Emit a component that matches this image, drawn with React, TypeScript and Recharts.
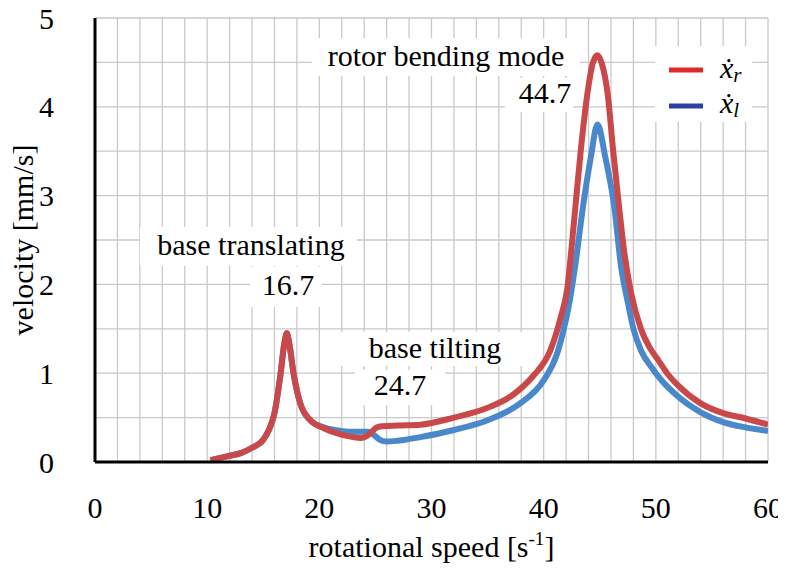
import { CartesianGrid, Label, Line, LineChart, XAxis, YAxis } from "recharts";

const FONT = "Liberation Serif";

// tick positions (grid every 2 s^-1 and 0.5 mm/s, labels on the round ones)
const xTicks = [0, 2, 4, 6, 8, 10, 12, 14, 16, 18, 20, 22, 24, 26, 28, 30, 32, 34, 36, 38, 40, 42, 44, 46, 48, 50, 52, 54, 56, 58, 60];
const xTickLabels = [0, 10, 20, 30, 40, 50, 60];
const yTicks = [0, 0.5, 1, 1.5, 2, 2.5, 3, 3.5, 4, 4.5, 5];
const yTickLabels = [0, 1, 2, 3, 4, 5];

// rotational speed [1/s] vs velocity [mm/s]
const xrSpeed = [10.3, 11, 12, 13, 14, 15, 15.5, 16, 16.5, 16.9, 17.1, 17.3, 17.7, 18.3, 19.2, 20.4, 21.9, 23, 23.7, 24.2, 24.6, 25, 25.4, 27, 29, 32, 35, 37.3, 39, 40.6, 41.5, 42.1, 42.7, 43.3, 43.9, 44.4, 44.8, 45.2, 45.7, 46.2, 46.7, 47.2, 47.8, 48.7, 49.4, 50.2, 51, 52, 54, 56, 58, 60];
const xrVelocity = [0.02, 0.04, 0.07, 0.1, 0.16, 0.25, 0.36, 0.55, 0.95, 1.35, 1.45, 1.35, 1.0, 0.66, 0.47, 0.38, 0.31, 0.28, 0.27, 0.29, 0.33, 0.38, 0.4, 0.41, 0.42, 0.5, 0.61, 0.76, 0.96, 1.26, 1.62, 1.95, 2.7, 3.5, 4.15, 4.5, 4.58, 4.48, 4.15, 3.5, 2.9, 2.35, 1.9, 1.49, 1.3, 1.15, 1.0, 0.86, 0.66, 0.55, 0.49, 0.42];

const xlSpeed = [10.3, 11, 12, 13, 14, 15, 15.5, 16, 16.5, 16.9, 17.1, 17.3, 17.7, 18.3, 19.2, 20.4, 21.9, 23, 24.3, 24.8, 25.4, 26, 27, 29, 32, 35, 37.9, 40, 41.2, 41.8, 42.3, 42.8, 43.5, 44.2, 44.8, 45.5, 46.3, 46.9, 47.5, 48, 48.7, 49.6, 50.5, 51.6, 54, 56, 58, 60];
const xlVelocity = [0.02, 0.04, 0.07, 0.1, 0.16, 0.25, 0.36, 0.55, 0.95, 1.35, 1.45, 1.35, 1.0, 0.66, 0.47, 0.39, 0.35, 0.34, 0.34, 0.31, 0.25, 0.23, 0.24, 0.28, 0.36, 0.47, 0.66, 0.92, 1.22, 1.5, 1.8, 2.2, 2.87, 3.43, 3.8, 3.43, 2.87, 2.2, 1.8, 1.5, 1.25, 1.07, 0.92, 0.78, 0.56, 0.45, 0.39, 0.35];

const xrData = xrSpeed.map((x, i) => ({ x, v: xrVelocity[i] }));
const xlData = xlSpeed.map((x, i) => ({ x, v: xlVelocity[i] }));

const tickStyle = { fontSize: 30, fill: "#000", fontFamily: FONT };
const showX = (v: number) => (xTickLabels.includes(v) ? String(v) : "");
const showY = (v: number) => (yTickLabels.includes(v) ? String(v) : "");

function XTitle({ viewBox }: any) {
  const { x, y, width } = viewBox;
  return (
    <text x={x + width / 2} y={y + 95} textAnchor="middle" fontSize={30} fill="#000" fontFamily={FONT}>
      rotational speed [s
      <tspan fontSize={19} dy={-12}>-1</tspan>
      <tspan dy={12}>]</tspan>
    </text>
  );
}

function YTitle({ viewBox }: any) {
  const { y, height } = viewBox;
  const cy = y + height / 2;
  return (
    <text x={33} y={cy} transform={`rotate(-90 33 ${cy})`} textAnchor="middle" fontSize={30} fill="#000" fontFamily={FONT}>
      velocity [mm/s]
    </text>
  );
}

// text boxes: centre x and baseline of the text, white box behind it
const notes = [
  { label: "rotor bending mode", cx: 446, base: 66, x0: 312, x1: 580, y0: 38, y1: 76 },
  { label: "44.7", cx: 545, base: 103, x0: 505, x1: 573, y0: 78, y1: 112 },
  { label: "base translating", cx: 251, base: 255, x0: 140, x1: 357, y0: 227, y1: 266 },
  { label: "16.7", cx: 288, base: 295, x0: 250, x1: 322, y0: 267, y1: 307 },
  { label: "base tilting", cx: 435, base: 358, x0: 332, x1: 534, y0: 332, y1: 366 },
  { label: "24.7", cx: 400, base: 395, x0: 355, x1: 445, y0: 370, y1: 405 }
];

function Overlay() {
  return (
    <svg width={786} height={569} style={{ position: "absolute", left: 0, top: 0, pointerEvents: "none" }}>
      {notes.map((b) => (
        <g key={b.label}>
          <rect x={b.x0} y={b.y0} width={b.x1 - b.x0} height={b.y1 - b.y0} fill="#fff" />
          <text x={b.cx} y={b.base} textAnchor="middle" fontSize={30} fill="#000" fontFamily={FONT}>
            {b.label}
          </text>
        </g>
      ))}
      {/* legend */}
      <rect x={655} y={46} width={97} height={76} fill="#fff" />
      <line x1={669} x2={703} y1={70} y2={70} stroke="#e0292b" strokeWidth={5} />
      <line x1={669} x2={703} y1={106} y2={106} stroke="#2e3f9e" strokeWidth={5} />
      <text x={720} y={78} fontSize={30} fontStyle="italic" fill="#000" fontFamily={FONT}>
        ẋ<tspan fontSize={21} dy={4}>r</tspan>
      </text>
      <text x={720} y={113} fontSize={30} fontStyle="italic" fill="#000" fontFamily={FONT}>
        ẋ<tspan fontSize={21} dy={4}>l</tspan>
      </text>
    </svg>
  );
}

export default function App() {
  return (
    <div style={{ position: "relative", margin: "-8px 0 0 -8px", width: 786, height: 569, background: "#fff" }}>
      <LineChart width={786} height={569} margin={{ top: 18, right: 18, bottom: 0, left: 0 }}>
        <CartesianGrid stroke="#c9c9c9" strokeWidth={1.3} />
        <XAxis
          dataKey="x"
          type="number"
          domain={[0, 60]}
          ticks={xTicks}
          tickFormatter={showX}
          interval={0}
          allowDataOverflow
          height={107}
          tickLine={false}
          tickSize={0}
          tickMargin={35}
          tick={tickStyle}
          axisLine={{ stroke: "#000", strokeWidth: 3 }}
        >
          <Label content={XTitle} />
        </XAxis>
        <XAxis
          xAxisId="top"
          orientation="top"
          type="number"
          domain={[0, 60]}
          height={0}
          tick={false}
          tickLine={false}
          axisLine={{ stroke: "#000", strokeWidth: 3 }}
        />
        <YAxis
          type="number"
          domain={[0, 5]}
          ticks={yTicks}
          tickFormatter={showY}
          interval={0}
          width={95}
          tickLine={false}
          tickSize={0}
          tickMargin={41}
          tick={tickStyle}
          axisLine={{ stroke: "#000", strokeWidth: 3 }}
        >
          <Label content={YTitle} />
        </YAxis>
        <YAxis
          yAxisId="right"
          orientation="right"
          type="number"
          domain={[0, 5]}
          width={0}
          tick={false}
          tickLine={false}
          axisLine={{ stroke: "#000", strokeWidth: 4 }}
        />
        <Line
          data={xlData}
          dataKey="v"
          type="monotone"
          stroke="#4a88cc"
          strokeWidth={6}
          dot={false}
          isAnimationActive={false}
        />
        <Line
          data={xrData}
          dataKey="v"
          type="monotone"
          stroke="#c9484a"
          strokeWidth={6}
          dot={false}
          isAnimationActive={false}
        />
      </LineChart>
      <Overlay />
    </div>
  );
}
